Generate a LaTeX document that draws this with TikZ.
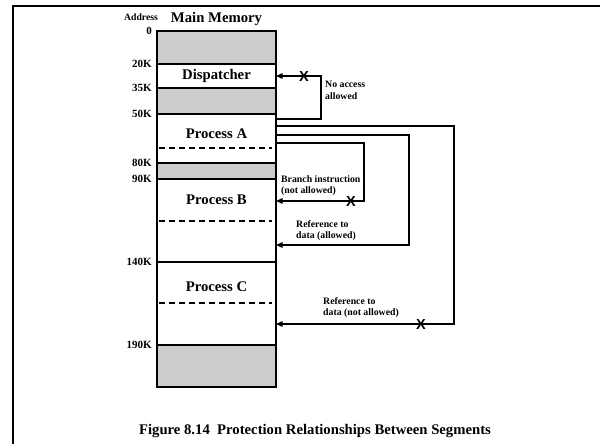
\documentclass[tikz,border=0pt]{standalone}
\usepackage{fontspec}
\setmainfont{Liberation Serif}
\setsansfont{Liberation Sans}
\usetikzlibrary{arrows.meta,positioning,calc}
\definecolor{memgray}{RGB}{204,204,204}

\begin{document}
\begin{tikzpicture}[x=1pt,y=-1pt,
      seg/.style={draw,line width=1.7pt,minimum width=119pt,inner sep=0pt,outer sep=0pt},
      hole/.style={seg,fill=memgray},
      addr/.style={font=\fontsize{11}{12}\selectfont\bfseries,inner sep=0pt},
      title/.style={font=\fontsize{14.7}{16}\selectfont\bfseries,inner sep=0pt},
      note/.style={anchor=north west,align=left,inner sep=0pt,
                   font=\fontsize{9.8}{11.8}\selectfont\bfseries},
      cross/.style={font=\fontsize{14.5}{14.5}\selectfont\sffamily\bfseries,inner sep=0pt},
      link/.style={line width=1.3pt,-{Triangle[length=6.5pt,width=5.5pt]}},
      split/.style={line width=1.3pt,dash pattern=on 6pt off 4pt}
  ]
    \useasboundingbox (0,0) rectangle (600,444);
    \draw[line width=1.8pt] (13,450) -- (13,6) -- (610,6);

    % memory segments
    \node[hole,minimum height=33pt] (f0)   at (216.5,47.5) {};
    \node[seg,minimum height=24pt]  (disp) at (216.5,76)   {};
    \node[hole,minimum height=26pt] (f1)   at (216.5,101)  {};
    \node[seg,minimum height=49pt]  (pa)   at (216.5,138.5) {};
    \node[hole,minimum height=16pt] (f2)   at (216.5,171)  {};
    \node[seg,minimum height=83pt]  (pb)   at (216.5,220.5) {};
    \node[seg,minimum height=83pt]  (pc)   at (216.5,303.5) {};
    \node[hole,minimum height=42pt] (f3)   at (216.5,366)  {};

    \node[title] at (disp) {Dispatcher};
    \node[title] at ($(pa)+(0,-4.5)$) {Process A};
    \node[title] at ($(pb)+(0,-20.5)$) {Process B};
    \node[title] at ($(pc)+(0,-16.5)$) {Process C};

    \draw[split] ($(pa.west)+(2,9.5)$) -- ($(pa.east)+(-4,9.5)$);
    \draw[split] ($(pb.west)+(2,0.5)$) -- ($(pb.east)+(-4,0.5)$);
    \draw[split] ($(pc.west)+(2,-0.5)$) -- ($(pc.east)+(-4,-0.5)$);

    % addresses
    \node[addr,font=\fontsize{9.7}{10}\selectfont\bfseries] (adr) at (141,17) {Address};
    \node[title] (mm) at (216.5,19) {Main Memory};
    \node[addr,left=5pt of f0.north west]   {0};
    \node[addr,left=5pt of disp.north west] {20K};
    \node[addr,left=5pt of f1.north west]   {35K};
    \node[addr,left=5pt of pa.north west]   {50K};
    \node[addr,left=5pt of f2.north west]   {80K};
    \node[addr,left=5pt of pb.north west]   {90K};
    \node[addr,left=5pt of pc.north west]   {140K};
    \node[addr,left=5pt of f3.north west]   {190K};

    % references leaving process A
    \coordinate (aNo)  at ($(pa.north east)+(0,5)$);
    \coordinate (aOut) at ($(pa.north east)+(0,12)$);
    \coordinate (aMid) at ($(pa.north east)+(0,21)$);
    \coordinate (aIn)  at ($(pa.north east)+(0,29)$);
    \coordinate (bIn)  at ($(pb.north east)+(0,22)$);
    \coordinate (bMid) at ($(pb.north east)+(0,66)$);
    \coordinate (cOut) at ($(pc.north east)+(0,62)$);

    \draw[link] (aNo) -- ++(45,0) |- (disp.east);
    \draw[link] (aIn) -- ++(88,0) |- (bIn);
    \draw[link] (aMid) -- ++(133,0) |- (bMid);
    \draw[link] (aOut) -- ++(178,0) |- (cOut);

    \node[cross] at ($(disp.east)+(28,0.5)$) {X};
    \node[cross] at ($(bIn)+(75,0.5)$) {X};
    \node[cross] at ($(cOut)+(145,0.5)$) {X};

    \node[note] at (325,81)  {No access\\allowed};
    \node[note] at (281,175) {Branch instruction\\(not allowed)};
    \node[note] at (296,220) {Reference to\\data (allowed)};
    \node[note] at (323,297) {Reference to\\data (not allowed)};

    \node[title] (cap) at (315,431) {Figure 8.14\hspace{0.5em}Protection Relationships Between Segments};
  \end{tikzpicture}
\end{document}
